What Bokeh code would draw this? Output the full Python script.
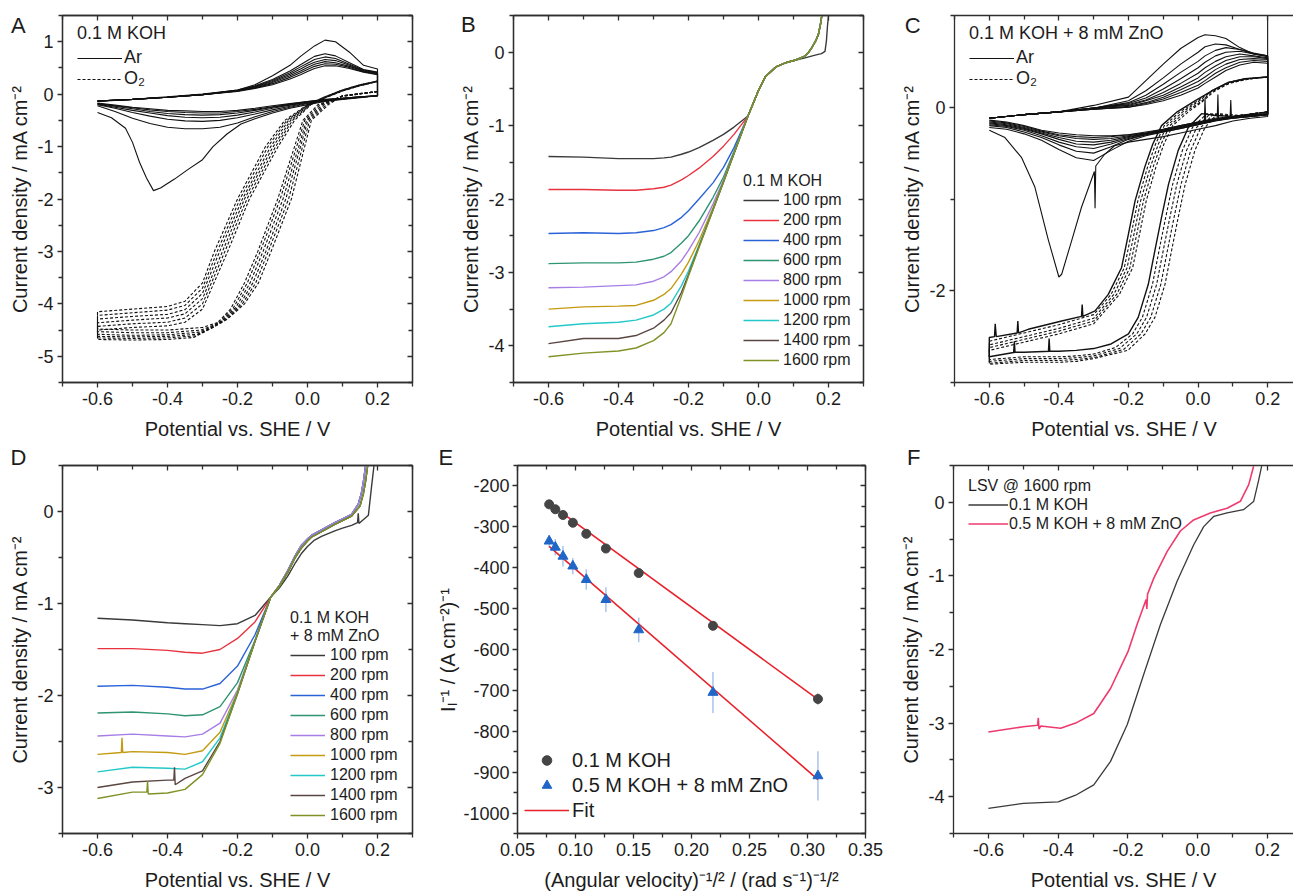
from bokeh.plotting import figure
from bokeh.models import (Range1d, LinearAxis, FixedTicker, NumeralTickFormatter,
                          Legend, LegendItem, Label)
from bokeh.layouts import row, column
from bokeh.embed import file_html
from bokeh.resources import INLINE

FONT = "Liberation Sans"
INK = "#1c1c1c"
AXC = "#2e2e2e"

# ---------------------------------------------------------------- shared
pot_ticks = [-0.6, -0.4, -0.2, 0.0, 0.2]
pot_minor = [-0.7, -0.5, -0.3, -0.1, 0.1, 0.3]
rpm_labels = ["100 rpm", "200 rpm", "400 rpm", "600 rpm", "800 rpm",
              "1000 rpm", "1200 rpm", "1400 rpm", "1600 rpm"]
rpm_colors = ["#3a3a3a", "#e8333f", "#2a62d8", "#2f9470", "#a77ee6",
              "#c49a10", "#25c8c8", "#5a4642", "#7f9226"]

# ---------------------------------------------------------------- panel A (0.1 M KOH CV)
a_ar_up_x = [-0.6, -0.5, -0.4, -0.3, -0.2, -0.15, -0.1, -0.05, -0.02, 0.0, 0.02, 0.05, 0.08, 0.12, 0.16, 0.2]
a_ar_up = [
    [-0.14, -0.1, -0.05, 0.0, 0.08, 0.18, 0.35, 0.55, 0.72, 0.82, 0.92, 1.03, 1.0, 0.8, 0.55, 0.48],
    [-0.13, -0.1, -0.06, -0.01, 0.08, 0.16, 0.28, 0.44, 0.56, 0.64, 0.72, 0.77, 0.73, 0.6, 0.47, 0.42],
    [-0.13, -0.1, -0.06, -0.01, 0.07, 0.15, 0.26, 0.41, 0.52, 0.59, 0.66, 0.71, 0.68, 0.57, 0.46, 0.41],
    [-0.13, -0.1, -0.06, -0.01, 0.07, 0.14, 0.24, 0.38, 0.48, 0.55, 0.61, 0.66, 0.64, 0.55, 0.45, 0.4],
    [-0.13, -0.1, -0.06, -0.01, 0.06, 0.13, 0.22, 0.35, 0.44, 0.51, 0.57, 0.62, 0.6, 0.53, 0.44, 0.39],
    [-0.13, -0.1, -0.06, -0.01, 0.06, 0.12, 0.2, 0.32, 0.41, 0.47, 0.53, 0.58, 0.57, 0.51, 0.43, 0.38],
    [-0.13, -0.1, -0.06, -0.01, 0.05, 0.11, 0.18, 0.29, 0.37, 0.43, 0.49, 0.54, 0.54, 0.49, 0.42, 0.37],
]
a_ar_first_dn_x = [0.2, 0.15, 0.1, 0.05, 0.0, -0.05, -0.1, -0.15, -0.19, -0.23, -0.27, -0.3, -0.34, -0.38,
                   -0.42, -0.44, -0.46, -0.48, -0.5, -0.52, -0.56, -0.6]
a_ar_first_dn_y = [-0.03, -0.07, -0.1, -0.14, -0.2, -0.27, -0.36, -0.47, -0.57, -0.76, -1.0, -1.25, -1.43, -1.62,
                   -1.79, -1.84, -1.6, -1.3, -0.92, -0.65, -0.45, -0.35]
a_ar_dn_x = [0.2, 0.15, 0.1, 0.05, 0.0, -0.05, -0.1, -0.15, -0.2, -0.25, -0.3, -0.35, -0.4, -0.45, -0.5, -0.55, -0.6]
a_ar_dn = [
    [-0.03, -0.06, -0.09, -0.13, -0.18, -0.25, -0.33, -0.43, -0.55, -0.63, -0.66, -0.66, -0.63, -0.56, -0.46, -0.33, -0.22],
    [-0.03, -0.06, -0.09, -0.12, -0.17, -0.23, -0.3, -0.38, -0.45, -0.5, -0.52, -0.51, -0.48, -0.42, -0.35, -0.27, -0.2],
    [-0.03, -0.06, -0.09, -0.12, -0.16, -0.21, -0.27, -0.34, -0.4, -0.44, -0.45, -0.44, -0.41, -0.36, -0.31, -0.25, -0.19],
    [-0.03, -0.05, -0.08, -0.11, -0.15, -0.2, -0.25, -0.31, -0.36, -0.39, -0.4, -0.39, -0.37, -0.33, -0.28, -0.23, -0.18],
    [-0.03, -0.05, -0.08, -0.11, -0.14, -0.19, -0.24, -0.29, -0.33, -0.36, -0.36, -0.35, -0.33, -0.3, -0.26, -0.22, -0.18],
    [-0.03, -0.05, -0.08, -0.1, -0.14, -0.18, -0.22, -0.27, -0.31, -0.33, -0.33, -0.32, -0.31, -0.28, -0.25, -0.21, -0.17],
]
a_o2_cat_x = [
    [0.2, 0.1, 0.06, 0.011, -0.008, -0.046, -0.104, -0.14, -0.18, -0.23, -0.3, -0.4, -0.5, -0.6],
    [0.2, 0.1, 0.054, 0.006, -0.014, -0.054, -0.112, -0.148, -0.188, -0.238, -0.305, -0.4, -0.5, -0.6],
    [0.2, 0.1, 0.048, 0.001, -0.02, -0.062, -0.119, -0.156, -0.196, -0.246, -0.31, -0.4, -0.5, -0.6],
    [0.2, 0.1, 0.042, -0.003, -0.025, -0.07, -0.127, -0.164, -0.204, -0.254, -0.315, -0.4, -0.5, -0.6],
    [0.2, 0.1, 0.036, -0.008, -0.031, -0.078, -0.135, -0.172, -0.212, -0.262, -0.32, -0.4, -0.5, -0.6],
    [0.2, 0.1, 0.03, -0.013, -0.037, -0.085, -0.142, -0.18, -0.22, -0.27, -0.325, -0.4, -0.5, -0.6],
]
a_o2_cat_y = [
    [0.05, -0.03, -0.2, -0.5, -1.0, -2.0, -3.0, -3.6, -4.0, -4.3, -4.45, -4.5, -4.5, -4.48],
    [0.05, -0.03, -0.2, -0.5, -1.0, -2.0, -3.0, -3.6, -4.02, -4.33, -4.5, -4.55, -4.55, -4.53],
    [0.05, -0.03, -0.2, -0.5, -1.0, -2.0, -3.0, -3.6, -4.04, -4.36, -4.54, -4.59, -4.6, -4.58],
    [0.05, -0.04, -0.2, -0.5, -1.0, -2.0, -3.0, -3.6, -4.06, -4.39, -4.58, -4.62, -4.63, -4.62],
    [0.05, -0.04, -0.2, -0.5, -1.0, -2.0, -3.0, -3.6, -4.08, -4.42, -4.61, -4.65, -4.66, -4.65],
    [0.05, -0.04, -0.2, -0.5, -1.0, -2.0, -3.0, -3.6, -4.1, -4.45, -4.64, -4.68, -4.69, -4.68],
]
a_o2_ano_x = [
    [-0.6, -0.5, -0.4, -0.35, -0.3, -0.266, -0.2, -0.12, -0.065, 0.0, 0.05, 0.1, 0.15, 0.2],
    [-0.6, -0.5, -0.4, -0.35, -0.3, -0.258, -0.193, -0.113, -0.059, 0.002, 0.05, 0.1, 0.15, 0.2],
    [-0.6, -0.5, -0.4, -0.35, -0.3, -0.251, -0.186, -0.105, -0.054, 0.004, 0.05, 0.1, 0.15, 0.2],
    [-0.6, -0.5, -0.4, -0.35, -0.3, -0.243, -0.18, -0.098, -0.048, 0.006, 0.05, 0.1, 0.15, 0.2],
    [-0.6, -0.5, -0.4, -0.35, -0.3, -0.236, -0.173, -0.091, -0.043, 0.008, 0.05, 0.1, 0.15, 0.2],
    [-0.6, -0.5, -0.4, -0.35, -0.3, -0.228, -0.166, -0.084, -0.037, 0.01, 0.05, 0.1, 0.15, 0.2],
]
a_o2_ano_y = [
    [-4.15, -4.1, -4.05, -3.95, -3.6, -3.0, -2.0, -1.0, -0.5, -0.2, -0.05, 0.08, 0.18, 0.25],
    [-4.22, -4.17, -4.12, -4.03, -3.7, -3.0, -2.0, -1.0, -0.5, -0.2, -0.05, 0.08, 0.18, 0.25],
    [-4.29, -4.24, -4.2, -4.11, -3.8, -3.0, -2.0, -1.0, -0.5, -0.2, -0.06, 0.07, 0.17, 0.25],
    [-4.36, -4.31, -4.27, -4.19, -3.9, -3.0, -2.0, -1.0, -0.5, -0.2, -0.06, 0.07, 0.17, 0.24],
    [-4.43, -4.38, -4.35, -4.27, -4.0, -3.0, -2.0, -1.0, -0.5, -0.2, -0.07, 0.06, 0.16, 0.24],
    [-4.5, -4.45, -4.42, -4.35, -4.1, -3.0, -2.0, -1.0, -0.5, -0.2, -0.07, 0.06, 0.16, 0.24],
]

# ---------------------------------------------------------------- panel B (0.1 M KOH LSV)
b_x = [-0.6, -0.5, -0.4, -0.35, -0.3, -0.27, -0.25, -0.22, -0.2, -0.17, -0.13, -0.1, -0.07, -0.03]
b_100 = [-1.42, -1.43, -1.45, -1.45, -1.45, -1.44, -1.43, -1.39, -1.36, -1.3, -1.2, -1.12, -1.02, -0.87]
b_200 = [-1.87, -1.87, -1.88, -1.88, -1.86, -1.84, -1.81, -1.74, -1.68, -1.58, -1.42, -1.28, -1.12, -0.87]
b_400 = [-2.47, -2.46, -2.47, -2.46, -2.43, -2.39, -2.35, -2.25, -2.16, -2.0, -1.78, -1.57, -1.3, -0.87]
b_600 = [-2.88, -2.87, -2.87, -2.86, -2.82, -2.78, -2.73, -2.6, -2.5, -2.3, -1.98, -1.7, -1.35, -0.87]
b_800 = [-3.21, -3.2, -3.18, -3.17, -3.12, -3.06, -2.99, -2.84, -2.7, -2.46, -2.07, -1.74, -1.37, -0.87]
b_1000 = [-3.5, -3.47, -3.46, -3.45, -3.38, -3.3, -3.22, -3.02, -2.86, -2.57, -2.12, -1.76, -1.38, -0.87]
b_1200 = [-3.74, -3.7, -3.68, -3.65, -3.58, -3.5, -3.42, -3.18, -2.98, -2.63, -2.14, -1.77, -1.38, -0.87]
b_1400 = [-3.97, -3.9, -3.9, -3.86, -3.76, -3.65, -3.55, -3.27, -3.03, -2.65, -2.15, -1.77, -1.38, -0.87]
b_1600 = [-4.15, -4.1, -4.07, -4.03, -3.93, -3.82, -3.7, -3.32, -3.05, -2.66, -2.15, -1.77, -1.38, -0.87]
b_tail_x = [-0.03, 0.0, 0.02, 0.05, 0.08, 0.104, 0.13, 0.142, 0.152, 0.163, 0.171, 0.177, 0.181]
b_tail_y = [-0.87, -0.52, -0.33, -0.2, -0.14, -0.11, -0.06, -0.01, 0.06, 0.15, 0.24, 0.38, 0.5]
b_tail100_x = [-0.03, 0.0, 0.02, 0.05, 0.08, 0.104, 0.13, 0.162, 0.18, 0.19, 0.194, 0.197, 0.2]
b_tail100_y = [-0.87, -0.52, -0.33, -0.2, -0.14, -0.11, -0.08, -0.04, -0.02, 0.01, 0.15, 0.35, 0.5]

# ---------------------------------------------------------------- panel C (0.1 M KOH + 8 mM ZnO CV)
c_ar_up_x = [-0.6, -0.5, -0.4, -0.3, -0.2, -0.15, -0.1, -0.05, 0.0, 0.02, 0.05, 0.08, 0.12, 0.16, 0.2]
c_ar_up = [
    [-0.12, -0.08, -0.05, 0.02, 0.11, 0.29, 0.47, 0.64, 0.76, 0.79, 0.78, 0.75, 0.65, 0.58, 0.56],
    [-0.12, -0.08, -0.05, -0.01, 0.07, 0.18, 0.32, 0.47, 0.6, 0.66, 0.69, 0.68, 0.63, 0.58, 0.56],
    [-0.12, -0.08, -0.05, -0.01, 0.05, 0.13, 0.25, 0.38, 0.5, 0.56, 0.62, 0.65, 0.63, 0.59, 0.56],
    [-0.12, -0.08, -0.05, -0.01, 0.04, 0.1, 0.2, 0.31, 0.43, 0.49, 0.56, 0.6, 0.61, 0.58, 0.55],
    [-0.12, -0.08, -0.05, -0.01, 0.03, 0.08, 0.16, 0.26, 0.37, 0.43, 0.5, 0.55, 0.58, 0.56, 0.54],
    [-0.12, -0.08, -0.05, -0.01, 0.02, 0.07, 0.13, 0.22, 0.32, 0.38, 0.45, 0.51, 0.55, 0.55, 0.53],
    [-0.12, -0.08, -0.05, -0.02, 0.01, 0.05, 0.11, 0.19, 0.28, 0.33, 0.41, 0.47, 0.52, 0.53, 0.52],
    [-0.12, -0.08, -0.05, -0.02, 0.0, 0.04, 0.09, 0.16, 0.24, 0.29, 0.37, 0.43, 0.49, 0.51, 0.5],
    [-0.12, -0.08, -0.05, -0.02, 0.0, 0.03, 0.07, 0.13, 0.21, 0.26, 0.33, 0.4, 0.46, 0.49, 0.48],
]
c_ar_first_dn_x = [0.2, 0.2, 0.15, 0.1, 0.05, 0.0, -0.05, -0.1, -0.15, -0.2, -0.24, -0.27, -0.294, -0.296,
                   -0.298, -0.335, -0.363, -0.392, -0.4, -0.43, -0.469, -0.507, -0.555, -0.6]
c_ar_first_dn_y = [1.2, -0.1, -0.12, -0.15, -0.2, -0.24, -0.28, -0.32, -0.35, -0.38, -0.42, -0.52, -0.64, -1.1,
                   -0.7, -1.09, -1.45, -1.82, -1.85, -1.45, -0.87, -0.55, -0.33, -0.25]
c_ar_second_dn_x = [0.2, 0.15, 0.096, 0.094, 0.092, 0.059, 0.057, 0.055, 0.022, 0.02, 0.018, 0.0, -0.05, -0.1,
                    -0.15, -0.2, -0.25, -0.3, -0.35, -0.4, -0.45, -0.5, -0.55, -0.6]
c_ar_second_dn_y = [-0.08, -0.1, -0.12, 0.08, -0.12, -0.14, 0.14, -0.14, -0.17, 0.1, -0.17, -0.19, -0.23, -0.27,
                    -0.31, -0.37, -0.47, -0.58, -0.55, -0.46, -0.36, -0.29, -0.24, -0.22]
c_ar_dn_x = [0.2, 0.15, 0.1, 0.05, 0.0, -0.05, -0.1, -0.15, -0.2, -0.25, -0.3, -0.35, -0.4, -0.45, -0.5, -0.55, -0.6]
c_ar_dn = [
    [-0.08, -0.1, -0.12, -0.15, -0.19, -0.23, -0.27, -0.3, -0.35, -0.43, -0.5, -0.48, -0.41, -0.33, -0.27, -0.22, -0.2],
    [-0.08, -0.1, -0.12, -0.14, -0.18, -0.22, -0.26, -0.3, -0.34, -0.4, -0.45, -0.43, -0.38, -0.31, -0.25, -0.21, -0.19],
    [-0.08, -0.1, -0.11, -0.14, -0.18, -0.22, -0.26, -0.29, -0.33, -0.38, -0.41, -0.4, -0.35, -0.29, -0.24, -0.2, -0.18],
    [-0.08, -0.09, -0.11, -0.14, -0.17, -0.21, -0.25, -0.29, -0.32, -0.36, -0.38, -0.37, -0.33, -0.28, -0.23, -0.19, -0.17],
    [-0.07, -0.09, -0.11, -0.13, -0.17, -0.21, -0.25, -0.28, -0.31, -0.34, -0.35, -0.34, -0.31, -0.27, -0.22, -0.18, -0.16],
    [-0.07, -0.09, -0.1, -0.13, -0.16, -0.2, -0.24, -0.28, -0.3, -0.32, -0.33, -0.32, -0.3, -0.26, -0.21, -0.17, -0.15],
    [-0.07, -0.08, -0.1, -0.12, -0.16, -0.2, -0.24, -0.27, -0.3, -0.31, -0.31, -0.3, -0.28, -0.25, -0.2, -0.16, -0.14],
]
c_o2_cat_x = [
    [0.2, 0.1, 0.05, 0.01, -0.028, -0.057, -0.085, -0.105, -0.124, -0.143, -0.172, -0.2, -0.25, -0.3, -0.35, -0.4,
     -0.43, -0.428, -0.426, -0.5, -0.53, -0.528, -0.526, -0.6],
    [0.2, 0.1, 0.06, 0.025, -0.016, -0.045, -0.073, -0.093, -0.112, -0.131, -0.16, -0.188, -0.238, -0.3, -0.35, -0.4, -0.5, -0.6],
    [0.2, 0.1, 0.07, 0.035, -0.004, -0.033, -0.061, -0.081, -0.1, -0.119, -0.148, -0.176, -0.226, -0.3, -0.35, -0.4, -0.5, -0.6],
    [0.2, 0.1, 0.08, 0.045, 0.008, -0.021, -0.049, -0.069, -0.088, -0.107, -0.136, -0.164, -0.214, -0.3, -0.35, -0.4, -0.5, -0.6],
    [0.2, 0.12, 0.09, 0.055, 0.02, -0.009, -0.037, -0.057, -0.076, -0.095, -0.124, -0.152, -0.202, -0.3, -0.35, -0.4, -0.5, -0.6],
]
c_o2_cat_y = [
    [-0.05, -0.1, -0.09, -0.07, -0.22, -0.47, -0.84, -1.2, -1.56, -1.93, -2.29, -2.47, -2.58, -2.63, -2.65, -2.66,
     -2.66, -2.52, -2.66, -2.67, -2.67, -2.55, -2.67, -2.72],
    [-0.05, -0.1, -0.09, -0.07, -0.22, -0.47, -0.84, -1.2, -1.56, -1.93, -2.29, -2.47, -2.62, -2.69, -2.71, -2.72, -2.72, -2.75],
    [-0.05, -0.1, -0.09, -0.07, -0.22, -0.47, -0.84, -1.2, -1.56, -1.93, -2.29, -2.47, -2.63, -2.71, -2.73, -2.74, -2.74, -2.77],
    [-0.05, -0.1, -0.09, -0.07, -0.22, -0.47, -0.84, -1.2, -1.56, -1.93, -2.29, -2.47, -2.64, -2.73, -2.75, -2.76, -2.76, -2.79],
    [-0.05, -0.09, -0.08, -0.07, -0.22, -0.47, -0.84, -1.2, -1.56, -1.93, -2.29, -2.47, -2.65, -2.74, -2.77, -2.78, -2.78, -2.8],
]
c_o2_ano_x = [
    [-0.6, -0.585, -0.583, -0.58, -0.52, -0.518, -0.516, -0.488, -0.392, -0.335, -0.333, -0.331, -0.296, -0.258,
     -0.22, -0.2, -0.181, -0.153, -0.13, -0.105, -0.06, -0.009, 0.04, 0.087, 0.135, 0.2],
    [-0.6, -0.5, -0.4, -0.3, -0.25, -0.212, -0.192, -0.173, -0.145, -0.122, -0.097, -0.052, -0.001, 0.04, 0.087, 0.135, 0.17, 0.2],
    [-0.6, -0.5, -0.4, -0.3, -0.242, -0.204, -0.184, -0.165, -0.137, -0.114, -0.089, -0.044, 0.004, 0.04, 0.087, 0.135, 0.17, 0.2],
    [-0.6, -0.5, -0.4, -0.3, -0.234, -0.196, -0.176, -0.157, -0.129, -0.106, -0.081, -0.036, 0.008, 0.04, 0.087, 0.135, 0.17, 0.2],
    [-0.6, -0.5, -0.4, -0.3, -0.226, -0.188, -0.168, -0.149, -0.121, -0.098, -0.073, -0.028, 0.012, 0.045, 0.09, 0.135, 0.17, 0.2],
]
c_o2_ano_y = [
    [-2.51, -2.5, -2.36, -2.5, -2.46, -2.33, -2.46, -2.42, -2.33, -2.28, -2.15, -2.28, -2.22, -2.04,
     -1.75, -1.38, -1.02, -0.65, -0.4, -0.2, -0.05, 0.07, 0.18, 0.27, 0.31, 0.33],
    [-2.55, -2.46, -2.37, -2.26, -2.04, -1.75, -1.38, -1.02, -0.65, -0.4, -0.2, -0.05, 0.07, 0.18, 0.27, 0.31, 0.32, 0.33],
    [-2.59, -2.5, -2.41, -2.3, -2.04, -1.75, -1.38, -1.02, -0.65, -0.4, -0.2, -0.05, 0.07, 0.18, 0.27, 0.31, 0.32, 0.33],
    [-2.62, -2.53, -2.44, -2.33, -2.04, -1.75, -1.38, -1.02, -0.65, -0.4, -0.2, -0.05, 0.06, 0.17, 0.26, 0.3, 0.32, 0.33],
    [-2.65, -2.56, -2.47, -2.36, -2.04, -1.75, -1.38, -1.02, -0.65, -0.4, -0.2, -0.05, 0.06, 0.17, 0.26, 0.3, 0.32, 0.33],
]

# ---------------------------------------------------------------- panel D (0.1 M KOH + 8 mM ZnO LSV)
d_x = [-0.6, -0.5, -0.4, -0.35, -0.3, -0.25, -0.2, -0.15, -0.105]
d_100 = [-1.16, -1.18, -1.21, -1.22, -1.23, -1.24, -1.22, -1.13, -0.93]
d_200 = [-1.49, -1.49, -1.51, -1.53, -1.54, -1.5, -1.38, -1.2, -0.93]
d_400 = [-1.9, -1.89, -1.91, -1.93, -1.93, -1.87, -1.68, -1.34, -0.93]
d_600 = [-2.19, -2.18, -2.2, -2.22, -2.21, -2.12, -1.86, -1.4, -0.93]
d_800 = [-2.44, -2.42, -2.44, -2.45, -2.42, -2.3, -1.94, -1.41, -0.93]
d_1000_x = [-0.6, -0.532, -0.53, -0.528, -0.5, -0.4, -0.35, -0.3, -0.25, -0.2, -0.15, -0.105]
d_1000 = [-2.64, -2.62, -2.46, -2.62, -2.61, -2.62, -2.64, -2.6, -2.4, -1.96, -1.41, -0.93]
d_1200 = [-2.83, -2.78, -2.79, -2.8, -2.72, -2.46, -1.97, -1.41, -0.93]
d_1400_x = [-0.6, -0.5, -0.4, -0.382, -0.38, -0.378, -0.35, -0.3, -0.25, -0.2, -0.15, -0.105]
d_1400 = [-3.0, -2.94, -2.92, -2.92, -2.78, -2.97, -2.9, -2.82, -2.5, -1.98, -1.41, -0.93]
d_1600_x = [-0.6, -0.5, -0.459, -0.457, -0.455, -0.4, -0.35, -0.3, -0.25, -0.2, -0.15, -0.105]
d_1600 = [-3.12, -3.05, -3.05, -2.93, -3.07, -3.06, -3.02, -2.86, -2.52, -1.98, -1.41, -0.93]
d_tail_a_x = [-0.105, -0.08, -0.056, -0.035, -0.018, 0.0, 0.011, 0.04, 0.078, 0.1, 0.126, 0.145, 0.154, 0.16, 0.166]
d_tail_a_y = [-0.93, -0.8, -0.64, -0.48, -0.37, -0.3, -0.26, -0.2, -0.12, -0.08, -0.03, 0.08, 0.2, 0.33, 0.5]
d_tail_b_x = [-0.105, -0.08, -0.056, -0.035, -0.018, 0.0, 0.011, 0.04, 0.078, 0.1, 0.126, 0.15, 0.16, 0.166, 0.172]
d_tail_b_y = [-0.93, -0.81, -0.66, -0.5, -0.4, -0.32, -0.28, -0.22, -0.14, -0.1, -0.05, 0.06, 0.2, 0.33, 0.5]
d_tail100_x = [-0.105, -0.08, -0.056, -0.035, -0.018, 0.0, 0.02, 0.04, 0.078, 0.1, 0.126, 0.143, 0.145, 0.147, 0.174, 0.183, 0.19]
d_tail100_y = [-0.93, -0.83, -0.7, -0.56, -0.46, -0.38, -0.31, -0.27, -0.21, -0.18, -0.15, -0.12, -0.02, -0.13, -0.04, 0.27, 0.5]

# ---------------------------------------------------------------- panel E (Koutecky-Levich)
e_x = [0.0773, 0.0826, 0.0892, 0.0977, 0.1093, 0.1262, 0.1545, 0.2185, 0.309]
e_koh = [-245, -257, -271, -290, -317, -353, -413, -542, -721]
e_koh_err = [5, 5, 5, 5, 5, 8, 8, 8, 15]
e_zno = [-335, -350, -372, -396, -429, -478, -552, -705, -909]
e_zno_err = [15, 20, 25, 20, 25, 30, 30, 50, 60]
e_fit_x = [0.0773, 0.309]
e_fit_koh = [-243, -722]
e_fit_zno = [-348, -918]

# ---------------------------------------------------------------- panel F (LSV @ 1600 rpm)
f_koh_x = [-0.6, -0.5, -0.4, -0.35, -0.298, -0.25, -0.202, -0.155, -0.107, -0.059, -0.012, 0.017, 0.046,
           0.084, 0.131, 0.16, 0.174, 0.183]
f_koh_y = [-4.16, -4.09, -4.07, -3.98, -3.84, -3.52, -3.02, -2.34, -1.66, -1.07, -0.58, -0.33, -0.19,
           -0.145, -0.1, 0.01, 0.29, 0.49]
f_zno_x = [-0.6, -0.5, -0.459, -0.457, -0.455, -0.45, -0.393, -0.35, -0.298, -0.25, -0.2, -0.174, -0.148,
           -0.146, -0.144, -0.126, -0.088, -0.05, -0.012, 0.036, 0.084, 0.122, 0.146, 0.16]
f_zno_y = [-3.12, -3.05, -3.03, -2.93, -3.08, -3.04, -3.07, -3.0, -2.87, -2.53, -2.03, -1.66, -1.32,
           -1.45, -1.25, -1.03, -0.67, -0.39, -0.24, -0.145, -0.08, 0.014, 0.24, 0.49]

CUR_LABEL = "Current density / mA cm\u207b\u00b2"
POT_LABEL = "Potential vs. SHE / V"


# ---------------------------------------------------------------- helpers
def mirror_axis(ticks, minor):
    return LinearAxis(ticker=FixedTicker(ticks=ticks, minor_ticks=minor),
                      major_label_text_font_size="1px", major_label_text_alpha=0,
                      major_label_text_color=None, major_label_standoff=0,
                      major_tick_in=5, major_tick_out=0, minor_tick_in=4, minor_tick_out=0,
                      axis_line_color=AXC, axis_line_width=1.3,
                      major_tick_line_color=AXC, minor_tick_line_color=AXC,
                      major_tick_line_width=1.3, minor_tick_line_width=1.3)


def panel(width, height, bl, br, bt, bb, xr, yr, xt, xm, xfmt, yt, ym, yfmt,
          xlabel, ylabel, boxed=True, x_std=4, x_lab_std=10, y_std=4, y_lab_std=3):
    p = figure(width=width, height=height, x_range=Range1d(*xr), y_range=Range1d(*yr),
               output_backend="svg", toolbar_location=None,
               min_border_left=bl, min_border_right=br, min_border_top=bt, min_border_bottom=bb)
    p.xgrid.visible = False
    p.ygrid.visible = False
    p.outline_line_color = AXC if boxed else None
    p.outline_line_width = 1.3
    xa, ya = p.xaxis[0], p.yaxis[0]
    xa.ticker = FixedTicker(ticks=xt, minor_ticks=xm)
    ya.ticker = FixedTicker(ticks=yt, minor_ticks=ym)
    xa.formatter = NumeralTickFormatter(format=xfmt)
    ya.formatter = NumeralTickFormatter(format=yfmt)
    xa.axis_label = xlabel
    ya.axis_label = ylabel
    for ax in (xa, ya):
        ax.axis_line_color = AXC
        ax.axis_line_width = 1.3
        ax.major_tick_line_color = AXC
        ax.minor_tick_line_color = AXC
        ax.major_tick_line_width = 1.3
        ax.minor_tick_line_width = 1.3
        ax.major_tick_out = 5
        ax.major_tick_in = 0
        ax.minor_tick_out = 4
        ax.minor_tick_in = 0
        ax.major_label_text_font = FONT
        ax.major_label_text_font_size = "18px"
        ax.major_label_text_color = INK
        ax.axis_label_text_font = FONT
        ax.axis_label_text_font_size = "20px"
        ax.axis_label_text_font_style = "normal"
        ax.axis_label_text_color = INK
    xa.major_label_standoff = x_std
    xa.axis_label_standoff = x_lab_std
    ya.major_label_standoff = y_std
    ya.axis_label_standoff = y_lab_std
    p.add_layout(mirror_axis(xt, xm), "above")
    if boxed:
        p.add_layout(mirror_axis(yt, ym), "right")
    return p


def legend(p, items, title, loc, fs, glyph_w, item_h, spacing, standoff, title_standoff):
    lg = Legend(items=items, location=loc, title=title,
                label_text_font=FONT, label_text_font_size=f"{fs}px", label_text_color=INK,
                title_text_font=FONT, title_text_font_size=f"{fs}px",
                title_text_font_style="normal", title_text_color=INK,
                glyph_width=glyph_w, glyph_height=item_h, label_height=item_h,
                spacing=spacing, label_standoff=standoff, title_standoff=title_standoff,
                padding=0, margin=0, border_line_alpha=0, background_fill_alpha=0)
    p.add_layout(lg)


def letter(p, x, y, txt, side):
    # panel letter in the margin; position given in the panel's data coordinates
    p.add_layout(Label(x=x, y=y, text=txt,
                       text_font=FONT, text_font_size="22px", text_color=INK,
                       text_align="center", text_baseline="middle"), side)


# ---------------------------------------------------------------- A
pa = panel(434, 442, 62, 22, 15, 59, (-0.7, 0.3), (-5.5, 1.5), pot_ticks, pot_minor, "0.0",
           [-5, -4, -3, -2, -1, 0, 1], [-5.5, -4.5, -3.5, -2.5, -1.5, -0.5, 0.5, 1.5], "0",
           POT_LABEL, CUR_LABEL)
ar_rends = []
ar_rends.append(pa.line(a_ar_up_x + a_ar_first_dn_x, a_ar_up[0] + a_ar_first_dn_y,
                        line_color="#111111", line_width=1.1))
for up, dn in zip(a_ar_up[1:], a_ar_dn):
    ar_rends.append(pa.line(a_ar_up_x + a_ar_dn_x, up + dn, line_color="#111111", line_width=1.1))
o2_rends = []
for cx, cy, ax_, ay_ in zip(a_o2_cat_x, a_o2_cat_y, a_o2_ano_x, a_o2_ano_y):
    o2_rends.append(pa.line(cx + ax_, cy + ay_, line_color="#111111", line_width=1.1, line_dash="3 2"))
legend(pa, [LegendItem(label="Ar", renderers=[ar_rends[0]]),
            LegendItem(label="O\u2082", renderers=[o2_rends[0]])],
       "0.1 M KOH", (15, 293), 18, 45, 20, 0, 2, 3)
letter(pa, -0.826, 1.31, "A", "right")

# ---------------------------------------------------------------- B
pb = panel(448, 442, 79, 19, 15, 59, (-0.7, 0.3), (-4.5, 0.5), pot_ticks, pot_minor, "0.0",
           [-4, -3, -2, -1, 0], [-4.5, -3.5, -2.5, -1.5, -0.5, 0.5], "0",
           POT_LABEL, CUR_LABEL)
b_series = [b_100, b_200, b_400, b_600, b_800, b_1000, b_1200, b_1400, b_1600]
b_items = []
for i, ys in enumerate(b_series):
    if i == 0:
        xs, yy = b_x + b_tail100_x, ys + b_tail100_y
    else:
        xs, yy = b_x + b_tail_x, ys + b_tail_y
    r = pb.line(xs, yy, line_color=rpm_colors[i], line_width=1.4)
    b_items.append(LegendItem(label=rpm_labels[i], renderers=[r]))
legend(pb, b_items, "0.1 M KOH", (230, 12), 16, 36, 20, 0, 4, 0)
letter(pb, -0.829, 0.378, "B", "left")

# ---------------------------------------------------------------- C
pc = panel(411, 442, 70, 0, 15, 59, (-0.7, 0.2743), (-3.0, 1.0), pot_ticks, pot_minor, "0.0",
           [-2, 0], [-3, -1, 1], "0", POT_LABEL, CUR_LABEL, boxed=False)
c_ar = []
c_ar.append(pc.line(c_ar_up_x + c_ar_first_dn_x, c_ar_up[0] + c_ar_first_dn_y,
                    line_color="#111111", line_width=1.1))
c_ar.append(pc.line(c_ar_up_x + c_ar_second_dn_x, c_ar_up[1] + c_ar_second_dn_y,
                    line_color="#111111", line_width=1.1))
for up, dn in zip(c_ar_up[2:], c_ar_dn):
    c_ar.append(pc.line(c_ar_up_x + c_ar_dn_x, up + dn, line_color="#111111", line_width=1.1))
c_o2 = []
for k, (cx, cy, ax_, ay_) in enumerate(zip(c_o2_cat_x, c_o2_cat_y, c_o2_ano_x, c_o2_ano_y)):
    if k == 0:
        c_o2.append(pc.line(cx + ax_, cy + ay_, line_color="#111111", line_width=1.4))
    else:
        c_o2.append(pc.line(cx + ax_, cy + ay_, line_color="#111111", line_width=1.1, line_dash="3 2"))
legend(pc, [LegendItem(label="Ar", renderers=[c_ar[0]]),
            LegendItem(label="O\u2082", renderers=[c_o2[1]])],
       "0.1 M KOH + 8 mM ZnO", (15, 293), 18, 45, 20, 0, 2, 3)
letter(pc, -0.82, 0.891, "C", "left")

# ---------------------------------------------------------------- D
pd_ = panel(434, 451, 62, 22, 23, 59, (-0.7, 0.3), (-3.5, 0.5), pot_ticks, pot_minor, "0.0",
            [-3, -2, -1, 0], [-3.5, -2.5, -1.5, -0.5, 0.5], "0",
            POT_LABEL, CUR_LABEL)
d_series = [
    (d_x + d_tail100_x, d_100 + d_tail100_y),
    (d_x + d_tail_a_x, d_200 + d_tail_a_y),
    (d_x + d_tail_a_x, d_400 + d_tail_a_y),
    (d_x + d_tail_a_x, d_600 + d_tail_a_y),
    (d_x + d_tail_a_x, d_800 + d_tail_a_y),
    (d_1000_x + d_tail_b_x, d_1000 + d_tail_b_y),
    (d_x + d_tail_b_x, d_1200 + d_tail_b_y),
    (d_1400_x + d_tail_b_x, d_1400 + d_tail_b_y),
    (d_1600_x + d_tail_b_x, d_1600 + d_tail_b_y),
]
d_items = []
for i, (xs, ys) in enumerate(d_series):
    r = pd_.line(xs, ys, line_color=rpm_colors[i], line_width=1.4)
    d_items.append(LegendItem(label=rpm_labels[i], renderers=[r]))
legend(pd_, d_items, "0.1 M KOH\n+ 8 mM ZnO", (228, 8), 16, 35, 20, 0, 5, 0)
letter(pd_, -0.826, 0.587, "D", "right")

# ---------------------------------------------------------------- E
pe = panel(450, 451, 81, 19, 23, 59, (0.05, 0.35), (-1050, -150),
           [0.05, 0.10, 0.15, 0.20, 0.25, 0.30, 0.35], [0.075, 0.125, 0.175, 0.225, 0.275, 0.325], "0.00",
           [-1000, -900, -800, -700, -600, -500, -400, -300, -200],
           [-1050, -950, -850, -750, -650, -550, -450, -350, -250, -150], "0",
           "(Angular velocity)\u207b\u00b9/\u00b2 / (rad s\u207b\u00b9)\u207b\u00b9/\u00b2",
           "I\u2097\u207b\u00b9 / (A cm\u207b\u00b2)\u207b\u00b9", y_std=3, y_lab_std=1)
pe.segment(x0=e_x, y0=[v - e for v, e in zip(e_koh, e_koh_err)],
           x1=e_x, y1=[v + e for v, e in zip(e_koh, e_koh_err)], line_color="#b8b8b8", line_width=1.2)
pe.segment(x0=e_x, y0=[v - e for v, e in zip(e_zno, e_zno_err)],
           x1=e_x, y1=[v + e for v, e in zip(e_zno, e_zno_err)], line_color="#a9c4ea", line_width=1.5)
rf = pe.line(e_fit_x, e_fit_koh, line_color="#e8202a", line_width=1.6)
pe.line(e_fit_x, e_fit_zno, line_color="#e8202a", line_width=1.6)
rk = pe.scatter(e_x, e_koh, marker="circle", size=9, fill_color="#454545", line_color="#454545")
rz = pe.scatter(e_x, e_zno, marker="triangle", size=10, fill_color="#1f66c8", line_color="#1f66c8")
legend(pe, [LegendItem(label="0.1 M KOH", renderers=[rk]),
            LegendItem(label="0.5 M KOH + 8 mM ZnO", renderers=[rz]),
            LegendItem(label="Fit", renderers=[rf])],
       None, (7, 11), 20, 45, 24, 1, 3, 0)
letter(pe, -0.0117, -130.5, "E", "right")

# ---------------------------------------------------------------- F
pf = panel(409, 451, 68, 0, 23, 59, (-0.7, 0.2743), (-4.5, 0.5), pot_ticks, pot_minor, "0.0",
           [-4, -3, -2, -1, 0], [-4.5, -3.5, -2.5, -1.5, -0.5, 0.5], "0",
           POT_LABEL, CUR_LABEL, boxed=False)
r1 = pf.line(f_koh_x, f_koh_y, line_color="#3a3a3a", line_width=1.3)
r2 = pf.line(f_zno_x, f_zno_y, line_color="#ee3a6e", line_width=1.6)
legend(pf, [LegendItem(label="0.1 M KOH", renderers=[r1]),
            LegendItem(label="0.5 M KOH + 8 mM ZnO", renderers=[r2])],
       "LSV @ 1600 rpm", (15, 300), 16, 40, 19, 0, 1, 0)
letter(pf, -0.814, 0.608, "F", "left")

layout = column(row(pa, pb, pc), row(pd_, pe, pf))
open("out.html", "w").write(file_html(layout, INLINE))
